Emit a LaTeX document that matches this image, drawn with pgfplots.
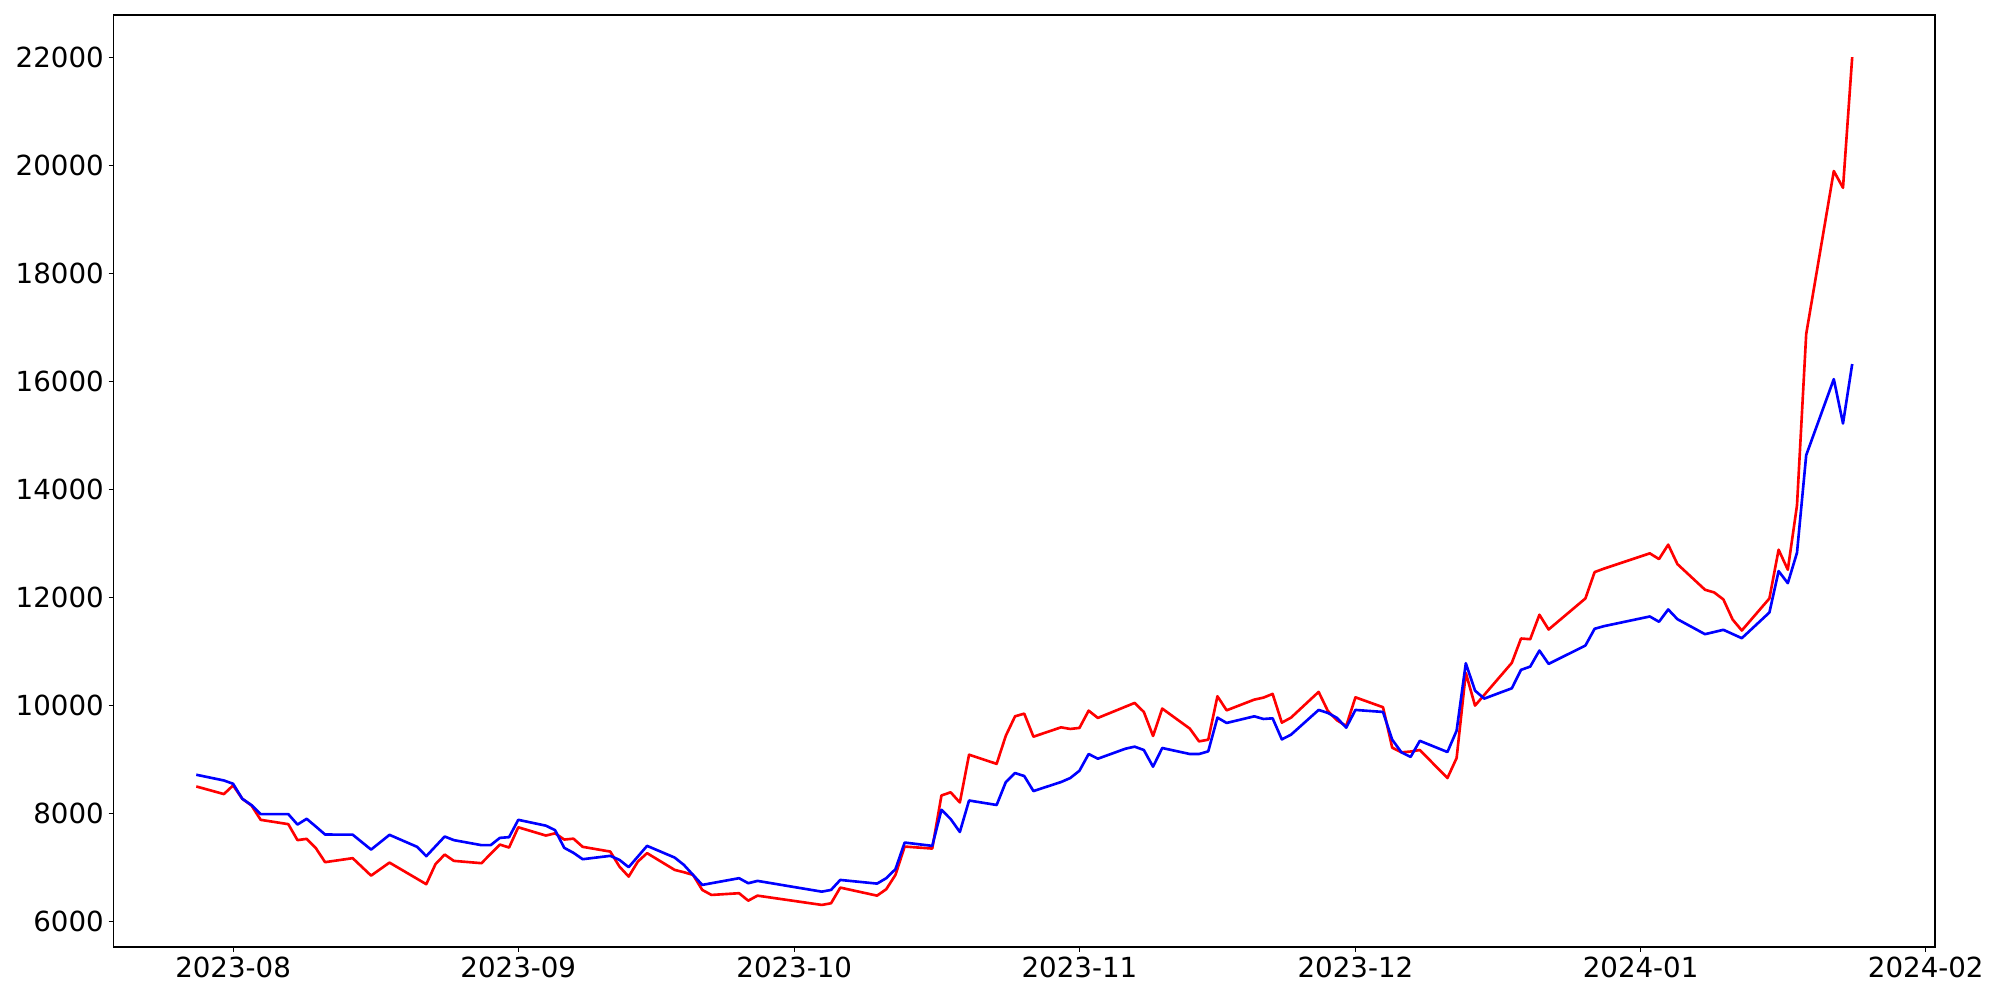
\documentclass[border=0pt]{standalone}
\usepackage{fontspec}
\setmainfont{DejaVu Sans}
\usepackage{pgfplots}
\pgfplotsset{compat=1.18}
\usepackage{pgfplotstable}

% x = days since 2023-08-01
\pgfplotstableread{
d v
-4 8493
-1 8352
0 8512
1 8265
2 8140
3 7875
6 7795
7 7499
8 7523
9 7350
10 7091
13 7165
15 6842
17 7083
21 6683
22 7054
23 7232
24 7115
27 7072
29 7417
30 7362
31 7737
34 7584
35 7625
36 7510
37 7526
38 7375
41 7287
42 7009
43 6824
44 7102
45 7258
48 6948
49 6905
50 6855
51 6577
52 6484
55 6516
56 6378
57 6471
64 6299
65 6330
66 6620
70 6471
71 6590
72 6855
73 7380
76 7343
77 8326
78 8385
79 8196
80 9081
83 8912
84 9434
85 9792
86 9842
87 9415
90 9588
91 9558
92 9577
93 9897
94 9762
98 10040
99 9873
100 9428
101 9935
104 9564
105 9328
106 9359
107 10163
108 9903
111 10101
112 10138
113 10207
114 9675
115 9768
118 10244
119 9892
120 9718
121 9613
122 10144
125 9960
126 9211
127 9125
128 9140
129 9168
132 8649
133 9020
134 10597
135 9990
139 10782
140 11233
141 11220
142 11673
143 11400
147 11975
148 12463
149 12526
154 12810
155 12704
156 12971
157 12611
160 12136
161 12086
162 11956
163 11585
164 11381
167 11975
168 12878
169 12507
170 13700
171 16872
174 19890
175 19580
176 22000
}\redtable

\pgfplotstableread{
d v
-4 8710
-1 8604
0 8543
1 8265
2 8148
3 7981
6 7981
7 7788
8 7894
9 7750
10 7603
13 7600
15 7324
17 7597
20 7375
21 7202
23 7566
24 7499
27 7406
28 7406
29 7541
30 7554
31 7875
34 7767
35 7684
36 7356
37 7264
38 7146
41 7208
42 7133
43 6998
44 7195
45 7393
48 7176
49 7041
50 6855
51 6670
55 6794
56 6701
57 6744
64 6545
65 6577
66 6762
70 6694
71 6794
72 6961
73 7454
76 7393
77 8061
78 7890
79 7650
80 8233
83 8150
84 8575
85 8742
86 8686
87 8408
90 8575
91 8649
92 8784
93 9094
94 9007
97 9192
98 9230
99 9168
100 8859
101 9205
104 9094
105 9094
106 9143
107 9768
108 9669
111 9792
112 9743
113 9755
114 9365
115 9452
118 9910
119 9855
120 9762
121 9582
122 9910
125 9873
126 9359
127 9125
128 9040
129 9338
132 9131
133 9526
134 10775
135 10268
136 10120
139 10311
140 10652
141 10713
142 11010
143 10763
147 11103
148 11413
149 11461
154 11641
155 11543
156 11771
157 11591
160 11313
162 11394
164 11239
167 11715
168 12481
169 12258
170 12822
171 14628
174 16037
175 15215
176 16316
}\bluetable

\begin{document}
\begin{tikzpicture}
\useasboundingbox (-1.135in,-0.53in) rectangle (18.865in,9.47in);
\begin{axis}[
  at={(0,0)}, anchor=south west,
  scale only axis,
  width=18.215in, height=9.32in,
  xmin=-13, xmax=185,
  ymin=5520, ymax=22780,
  xtick={0,31,61,92,122,153,184},
  xticklabels={2023-08,2023-09,2023-10,2023-11,2023-12,2024-01,2024-02},
  ytick={6000,8000,10000,12000,14000,16000,18000,20000,22000},
  tick align=outside,
  xtick pos=bottom, ytick pos=left,
  major tick length=3.5pt,
  every tick/.style={black, line width=0.8pt},
  axis line style={line width=0.8pt},
  tick label style={font=\fontsize{20}{24}\selectfont},
  /pgf/number format/assume math mode=true,
  /pgf/number format/1000 sep={},
  scaled y ticks=false,
  clip=true,
]
\addplot[red, line width=1.9pt, line join=round] table[x=d, y=v] {\redtable};
\addplot[blue, line width=1.9pt, line join=round] table[x=d, y=v] {\bluetable};
\end{axis}
\end{tikzpicture}
\end{document}
